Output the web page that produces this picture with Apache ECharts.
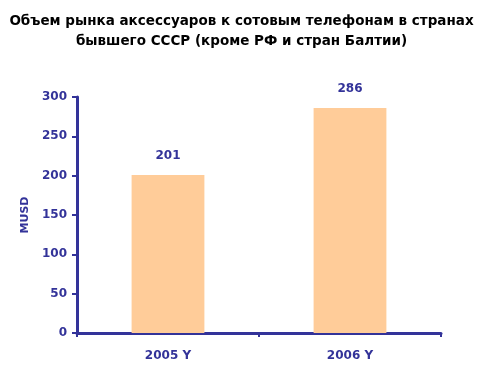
<!DOCTYPE html>
<html><head><meta charset="utf-8">
<script src="https://cdn.jsdelivr.net/npm/echarts@6/dist/echarts.min.js"></script>
<style>html,body{margin:0;padding:0;background:#fff}#c{width:483px;height:372px}</style>
</head><body><div id="c"></div>
<script>
const titleText = "Объем рынка аксессуаров к сотовым телефонам в странах\nбывшего СССР (кроме РФ и стран Балтии)";
const categories = ["2005 Y", "2006 Y"];
const values = [201, 286];
const yTicks = [0, 50, 100, 150, 200, 250, 300];
const yName = "MUSD";

const navy = "#333399";
const chart = echarts.init(document.getElementById('c'));
chart.setOption({
  animation: false,
  title: {
    text: titleText, left: 'center', top: 6,
    textStyle: {fontFamily: 'DejaVu Sans', fontWeight: 'bold', fontSize: 13.5, color: '#000', lineHeight: 20}
  },
  grid: {left: 77, right: 42, top: 97, bottom: 39, containLabel: false},
  xAxis: {
    type: 'category', data: categories,
    axisLine: {lineStyle: {color: navy, width: 3}},
    axisTick: {show: true, length: 4, lineStyle: {color: navy, width: 2}},
    axisLabel: {color: navy, fontFamily: 'DejaVu Sans', fontWeight: 'bold', fontSize: 12, margin: 17}
  },
  yAxis: {
    type: 'value', min: yTicks[0], max: yTicks[yTicks.length-1], interval: 50,
    name: yName, nameLocation: 'middle', nameGap: 41, nameRotate: 90,
    nameTextStyle: {color: navy, fontFamily: 'DejaVu Sans', fontWeight: 'bold', fontSize: 11},
    splitLine: {show: false},
    axisLine: {show: true, lineStyle: {color: navy, width: 3}},
    axisTick: {show: true, length: 5, inside: false, lineStyle: {color: navy, width: 2}},
    axisLabel: {color: navy, fontFamily: 'DejaVu Sans', fontWeight: 'bold', fontSize: 12, margin: 10}
  },
  series: [{
    type: 'bar', data: values, barWidth: '40%',
    itemStyle: {color: '#FFCC99'},
    label: {show: true, position: 'top', distance: 13, color: navy, fontFamily: 'DejaVu Sans', fontWeight: 'bold', fontSize: 12}
  }]
});
</script></body></html>
